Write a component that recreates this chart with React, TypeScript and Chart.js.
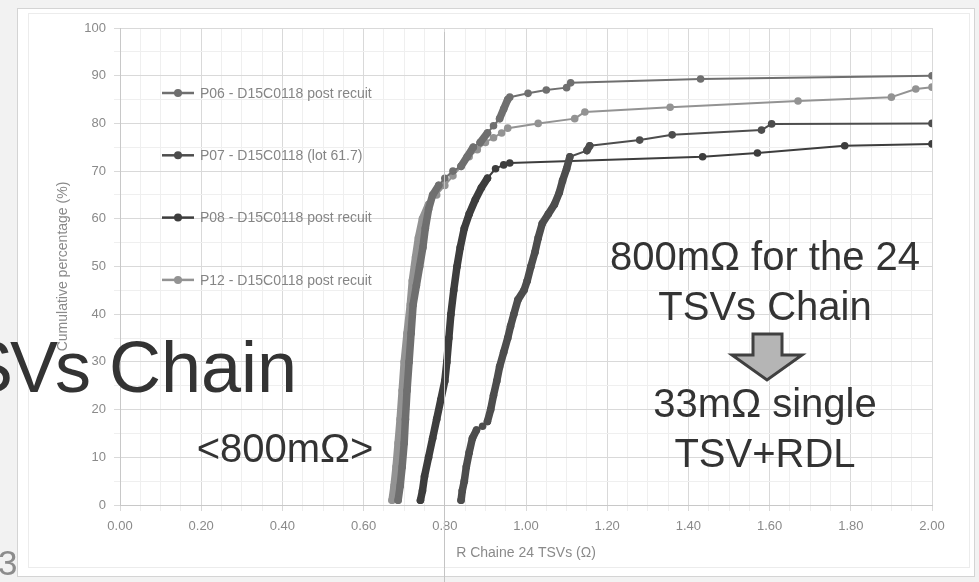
import React, { useEffect, useRef } from "react";
import { Chart, registerables } from "chart.js";

Chart.register(...registerables);

// ---- Data (R chain of 24 TSVs in ohm, cumulative percentage) ----
const seriesLabels = [
  "P06 - D15C0118 post recuit",
  "P07 - D15C0118 (lot 61.7)",
  "P08 - D15C0118 post recuit",
  "P12 - D15C0118 post recuit",
];
const seriesColors = ["#6f6f6f", "#4d4d4d", "#3d3d3d", "#939393"];

const p06X = [0.685, 0.69, 0.695, 0.7, 0.703, 0.707, 0.712, 0.717, 0.722, 0.73, 0.738, 0.746, 0.752, 0.76, 0.77, 0.785, 0.8, 0.82, 0.84, 0.855, 0.87, 0.887, 0.905, 0.92, 0.935, 0.945, 0.955, 0.96, 1.005, 1.05, 1.1, 1.11, 1.43, 2.0];
const p06Y = [1, 4, 8, 13, 18, 24, 30, 36, 42, 46, 50, 54, 58, 62, 65, 67, 68.5, 70, 71, 73, 75, 76, 78, 79.5, 81, 83, 85, 85.5, 86.3, 87, 87.5, 88.5, 89.3, 90];

const p07X = [0.84, 0.843, 0.848, 0.853, 0.86, 0.868, 0.878, 0.893, 0.905, 0.913, 0.92, 0.928, 0.935, 0.945, 0.955, 0.962, 0.97, 0.98, 0.995, 1.003, 1.012, 1.022, 1.03, 1.04, 1.055, 1.07, 1.082, 1.09, 1.1, 1.108, 1.15, 1.157, 1.28, 1.36, 1.58, 1.605, 2.0];
const p07Y = [1, 3, 5, 8, 11, 14, 15.7, 16.5, 17.5, 20, 23, 26, 29, 32, 35, 37.5, 40, 43, 45, 47, 50, 53, 56, 59, 61, 63, 65.5, 68, 70.5, 73, 74.3, 75.3, 76.5, 77.6, 78.6, 79.9, 80];

const p08X = [0.74, 0.745, 0.75, 0.76, 0.77, 0.78, 0.79, 0.8, 0.805, 0.81, 0.815, 0.822, 0.83, 0.838, 0.848, 0.86, 0.875, 0.89, 0.905, 0.925, 0.945, 0.96, 1.435, 1.57, 1.785, 2.0];
const p08Y = [1, 3, 6, 10, 14, 18, 22, 26, 30, 35, 40, 45, 50, 54, 58, 61, 64, 66.5, 68.5, 70.5, 71.3, 71.7, 73, 73.8, 75.3, 75.7];

const p12X = [0.67, 0.675, 0.68, 0.685, 0.69, 0.695, 0.7, 0.707, 0.715, 0.72, 0.728, 0.735, 0.745, 0.76, 0.78, 0.8, 0.82, 0.84, 0.86, 0.88, 0.9, 0.92, 0.94, 0.955, 1.03, 1.12, 1.145, 1.355, 1.67, 1.9, 1.96, 2.0];
const p12Y = [1, 4, 8, 13, 18, 24, 30, 36, 42, 47, 52, 56, 60, 63, 65, 67, 69, 71, 73, 74.5, 76, 77, 78, 79, 80, 81, 82.4, 83.4, 84.7, 85.5, 87.2, 87.6];

const seriesX = [p06X, p07X, p08X, p12X];
const seriesY = [p06Y, p07Y, p08Y, p12Y];

const xMin = 0;
const xMax = 2;
const yMin = 0;
const yMax = 100;
const xTitle = "R Chaine 24 TSVs (Ω)";
const yTitle = "Cumulative percentage (%)";

const FONT = '"Liberation Sans", Arial, sans-serif';

const insideLegend = {
  id: "insideLegend",
  afterDatasetsDraw(chart: any) {
    const { ctx, chartArea } = chart;
    chart.data.datasets.forEach((ds: any, i: number) => {
      const y = chartArea.top + 65 + i * 62.3;
      const x0 = chartArea.left + 42;
      ctx.save();
      ctx.strokeStyle = ds.borderColor;
      ctx.lineWidth = 2.5;
      ctx.beginPath();
      ctx.moveTo(x0, y);
      ctx.lineTo(x0 + 32, y);
      ctx.stroke();
      ctx.fillStyle = ds.pointBackgroundColor;
      ctx.beginPath();
      ctx.arc(x0 + 16, y, 4, 0, Math.PI * 2);
      ctx.fill();
      ctx.fillStyle = "#858585";
      ctx.font = "14px " + FONT;
      ctx.textBaseline = "middle";
      ctx.fillText(ds.label, x0 + 38, y + 1);
      ctx.restore();
    });
  },
};

export default function App() {
  const canvasRef = useRef<HTMLCanvasElement | null>(null);

  useEffect(() => {
    if (!canvasRef.current) return;
    const datasets = seriesLabels.map((label, i) => ({
      label,
      data: seriesX[i].map((x, j) => ({ x, y: seriesY[i][j] })),
      borderColor: seriesColors[i],
      backgroundColor: seriesColors[i],
      pointBackgroundColor: seriesColors[i],
      pointBorderColor: seriesColors[i],
      pointRadius: 3.8,
      pointBorderWidth: 0,
      borderWidth: 2,
      borderCapStyle: "round",
      borderJoinStyle: "round",
      segment: {
        borderWidth: (c: any) => {
          const dx = Math.abs(c.p1.x - c.p0.x);
          const dy = Math.abs(c.p1.y - c.p0.y);
          return dy > dx * 1.2 ? 7.5 : 2;
        },
      },
      tension: 0,
      showLine: true,
      fill: false,
    }));

    const chart = new Chart(canvasRef.current, {
      type: "scatter",
      data: { datasets },
      plugins: [insideLegend],
      options: {
        animation: false,
        responsive: false,
        maintainAspectRatio: false,
        devicePixelRatio: 1,
        layout: { padding: { left: 50, top: 28, right: 47, bottom: 0 } },
        plugins: {
          legend: { display: false },
          tooltip: { enabled: false },
        },
        scales: {
          x: {
            type: "linear",
            min: xMin,
            max: xMax,
            afterFit: (s: any) => {
              s.height = 77;
            },
            border: { color: "#c8c8c8" },
            grid: {
              color: (c: any) =>
                Math.abs(Math.round(c.tick.value / 0.2) * 0.2 - c.tick.value) < 1e-6 ? "#d9d9d9" : "#efefef",
              tickLength: 6,
              drawTicks: true,
            },
            ticks: {
              stepSize: 0.05,
              autoSkip: false,
              maxRotation: 0,
              padding: 8,
              color: "#8a8a8a",
              font: { family: FONT, size: 13 },
              callback: (v: any) => {
                const n = Number(v);
                return Math.abs(Math.round(n / 0.2) * 0.2 - n) < 1e-6 ? n.toFixed(2) : "";
              },
            },
            title: {
              display: true,
              text: xTitle,
              color: "#8a8a8a",
              font: { family: FONT, size: 14 },
              padding: { top: 4, bottom: 20 },
            },
          },
          y: {
            type: "linear",
            min: yMin,
            max: yMax,
            afterFit: (s: any) => {
              s.width = 70;
            },
            border: { color: "#c8c8c8" },
            grid: {
              color: (c: any) => (c.tick.value % 10 === 0 ? "#d9d9d9" : "#efefef"),
              tickLength: 6,
            },
            ticks: {
              stepSize: 5,
              autoSkip: false,
              padding: 8,
              color: "#8a8a8a",
              font: { family: FONT, size: 13 },
              callback: (v: any) => (Number(v) % 10 === 0 ? String(v) : ""),
            },
            title: {
              display: true,
              text: yTitle,
              color: "#8a8a8a",
              font: { family: FONT, size: 14 },
              padding: { top: 5, bottom: 4 },
            },
          },
        },
      } as any,
    });
    return () => chart.destroy();
  }, []);

  const abs: React.CSSProperties = { position: "absolute" };
  const bigText: React.CSSProperties = {
    ...abs,
    fontFamily: FONT,
    color: "#333333",
    whiteSpace: "nowrap",
  };

  return (
    <div
      style={{
        position: "fixed",
        left: 0,
        top: 0,
        width: 979,
        height: 582,
        overflow: "hidden",
        background: "#f2f2f2",
      }}
    >
      <div
        style={{
          ...abs,
          left: 17,
          top: 8,
          width: 958,
          height: 569,
          background: "#ffffff",
          border: "1px solid #d4d4d4",
          boxSizing: "border-box",
        }}
      />
      <div
        style={{
          ...abs,
          left: 28,
          top: 13,
          width: 942,
          height: 555,
          border: "1px solid #ececec",
          boxSizing: "border-box",
        }}
      />
      <canvas ref={canvasRef} width={979} height={582} style={{ ...abs, left: 0, top: 0, width: 979, height: 582 }} />
      <div style={{ ...abs, left: 444, top: 32, width: 1, height: 560, background: "#c4c4c4" }} />
      <div
        style={{
          ...bigText,
          left: -400,
          width: 488,
          top: 331,
          fontSize: 72,
          lineHeight: "72px",
          textAlign: "right",
          letterSpacing: -3,
        }}
      >
        TSVs
      </div>
      <div style={{ ...bigText, left: 109, top: 331, fontSize: 72, lineHeight: "72px" }}>Chain</div>
      <div style={{ ...bigText, left: -2, top: 545, fontSize: 35, lineHeight: "35px", color: "#8c8c8c" }}>3</div>
      <div style={{ ...bigText, left: 85, width: 400, top: 423, fontSize: 40, lineHeight: "50px", textAlign: "center" }}>
        {"<800mΩ>"}
      </div>
      <div style={{ ...bigText, left: 565, width: 400, top: 231, fontSize: 40, lineHeight: "50px", textAlign: "center" }}>
        800mΩ for the 24
        <br />
        TSVs Chain
      </div>
      <div style={{ ...bigText, left: 565, width: 400, top: 378, fontSize: 40, lineHeight: "50px", textAlign: "center" }}>
        33mΩ single
        <br />
        TSV+RDL
      </div>
      <svg style={{ ...abs, left: 0, top: 0 }} width={979} height={582}>
        <polygon
          points="753,334 782,334 782,355 802,355 767,380 732,355 753,355"
          fill="#b5b5b5"
          stroke="#404040"
          strokeWidth={3}
          strokeLinejoin="miter"
        />
      </svg>
    </div>
  );
}
